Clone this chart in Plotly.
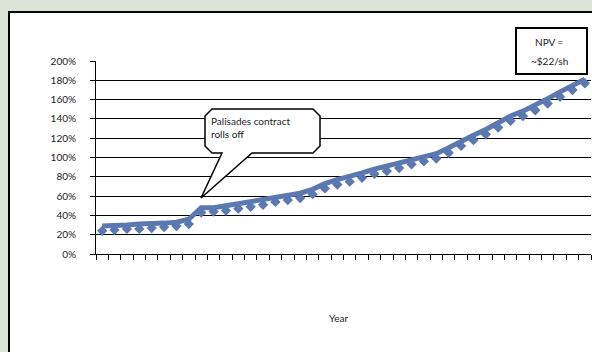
import plotly.graph_objects as go

# ---- data ----
years = list(range(40))  # 40 yearly categories, unlabeled
line_pct = [29, 29, 30, 31, 31, 32, 33, 36, 48, 48,
            50, 52, 54, 56, 59, 61, 63, 67, 73, 77,
            80, 84, 88, 91, 94, 98, 101, 104, 110, 117,
            123, 129, 136, 143, 148, 154, 161, 168, 175, 181]
marker_pct = [24, 25, 26, 26, 27, 28, 29, 31, 43, 44,
              45, 47, 49, 51, 54, 56, 58, 62, 68, 72,
              75, 79, 83, 86, 89, 93, 96, 99, 105, 112,
              118, 124, 131, 138, 143, 149, 156, 163, 170, 177]
y_ticks = [0, 20, 40, 60, 80, 100, 120, 140, 160, 180, 200]
y_tick_text = ["0%", "20%", "40%", "60%", "80%", "100%", "120%", "140%", "160%", "180%", "200%"]
x_title = "Year"
callout_text = "Palisades contract<br>rolls off"
npv_lines = ["NPV =", "~$22/sh"]

# ---- layout geometry (pixels) ----
W, H = 592, 352
PL, PR, PT, PB = 96, 591, 61, 254


def px(x):
    return (x - PL) / (PR - PL)


def py(y):
    return (PB - y) / (PB - PT)


BLUE = "#5b78b1"
FONT = "Lato"

fig = go.Figure()
fig.add_trace(go.Scatter(x=years, y=marker_pct, mode="markers",
                         marker=dict(symbol="diamond", size=8, color=BLUE),
                         hoverinfo="skip", showlegend=False))
fig.add_trace(go.Scatter(x=years, y=line_pct, mode="lines",
                         line=dict(color=BLUE, width=5),
                         hoverinfo="skip", showlegend=False))

shapes = []
# white slide panel with black border
shapes.append(dict(type="rect", xref="paper", yref="paper",
                   x0=px(9), x1=px(640), y0=py(12), y1=py(400),
                   fillcolor="white", line=dict(color="black", width=2), layer="below"))

# callout box with tail
pts = [(212, 109), (313, 109), (320, 116), (320, 146), (313, 153), (252, 153),
       (201, 198), (222, 153), (212, 153), (205, 146), (205, 116)]
path = "M " + " L ".join(f"{px(a):.5f},{py(b):.5f}" for a, b in pts) + " Z"
shapes.append(dict(type="path", xref="paper", yref="paper", path=path,
                   fillcolor="white", line=dict(color="black", width=1.5), layer="above"))
# NPV box
shapes.append(dict(type="rect", xref="paper", yref="paper",
                   x0=px(516), x1=px(587), y0=py(28), y1=py(74),
                   fillcolor="white", line=dict(color="black", width=2), layer="above"))

annotations = [
    dict(text=callout_text, xref="paper", yref="paper", x=px(209), y=py(113),
         xanchor="left", yanchor="top", align="left", showarrow=False,
         font=dict(family=FONT, size=10, color="#222")),
    dict(text=npv_lines[0], xref="paper", yref="paper", x=px(549), y=py(42),
         xanchor="center", yanchor="middle", showarrow=False,
         font=dict(family=FONT, size=10, color="#222")),
    dict(text=npv_lines[1], xref="paper", yref="paper", x=px(549), y=py(61),
         xanchor="center", yanchor="middle", showarrow=False,
         font=dict(family=FONT, size=10, color="#222")),
    dict(text=x_title, xref="paper", yref="paper", x=px(338), y=py(318),
         xanchor="center", yanchor="middle", showarrow=False,
         font=dict(family=FONT, size=10, color="#222")),
]

fig.update_layout(
    width=W, height=H,
    margin=dict(l=PL, r=W - PR, t=PT, b=H - PB, pad=0),
    paper_bgcolor="#dce3d9", plot_bgcolor="rgba(0,0,0,0)",
    shapes=shapes, annotations=annotations,
    showlegend=False,
    xaxis=dict(range=[-0.5, 39.5], showgrid=False, zeroline=False,
               showline=True, linecolor="black", linewidth=1,
               tickmode="array", tickvals=[i - 0.5 for i in range(41)],
               ticks="outside", ticklen=5, tickcolor="black", tickwidth=1,
               showticklabels=False, fixedrange=True),
    yaxis=dict(range=[0, 200], tickmode="array", tickvals=y_ticks, ticktext=y_tick_text,
               showgrid=True, gridcolor="black", gridwidth=1, zeroline=False,
               showline=True, linecolor="black", linewidth=1,
               ticks="outside", ticklen=5, tickcolor="black",
               ticklabelstandoff=12,
               tickfont=dict(family=FONT, size=10, color="#222"), fixedrange=True),
)

fig.write_html("out.html", config={"displayModeBar": False},
               post_script="document.body.style.margin='0';document.body.style.overflow='hidden';")
